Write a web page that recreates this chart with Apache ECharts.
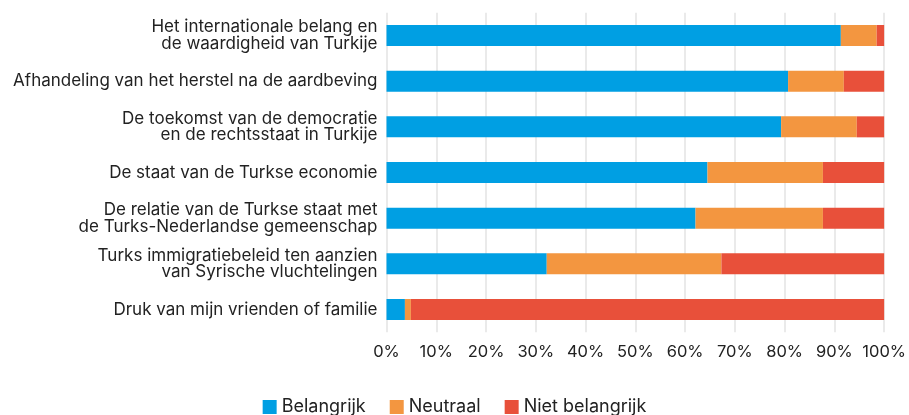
<!DOCTYPE html>
<html>
<head>
<meta charset="utf-8">
<script src="https://cdn.jsdelivr.net/npm/echarts@6/dist/echarts.min.js"></script>
<style>
  html, body { margin: 0; padding: 0; background: #fff; }
  #chart { width: 909px; height: 415px; }
</style>
</head>
<body>
<div id="chart"></div>
<script>
// categories top -> bottom
const categories = [
  'Het internationale belang en\nde waardigheid van Turkije',
  'Afhandeling van het herstel na de aardbeving',
  'De toekomst van de democratie\nen de rechtsstaat in Turkije',
  'De staat van de Turkse economie',
  'De relatie van de Turkse staat met\nde Turks-Nederlandse gemeenschap',
  'Turks immigratiebeleid ten aanzien\nvan Syrische vluchtelingen',
  'Druk van mijn vrienden of familie'
]
// percentages
const belangrijk = [91.3, 80.7, 79.3, 64.5, 62.1, 32.2, 3.7]
const neutraal = [7.2, 11.2, 15.2, 23.2, 25.6, 35.1, 1.2]
const nietBelangrijk = [1.5, 8.1, 5.5, 12.3, 12.3, 32.7, 95.1]

const colors = ['#009fe3', '#f39640', '#e8503a']
const font = 'Inter, "Noto Sans", sans-serif'

const chart = echarts.init(document.getElementById('chart'))

const makeSeries = (name, data) => ({
  name,
  type: 'bar',
  stack: 'total',
  barWidth: '46%',
  data,
  emphasis: { disabled: true }
})

chart.setOption({
  animation: false,
  color: colors,
  textStyle: { fontFamily: font },
  grid: { left: 386.5, right: 22.5, top: 12.7, bottom: 82.7, containLabel: false },
  legend: {
    top: 393,
    left: 'center',
    itemWidth: 14,
    itemHeight: 14,
    itemGap: 24,
    icon: 'rect',
    textStyle: { fontSize: 18, color: '#222', fontFamily: font },
    data: ['Belangrijk', 'Neutraal', 'Niet belangrijk']
  },
  xAxis: {
    type: 'value',
    min: 0,
    max: 100,
    interval: 10,
    axisLabel: {
      formatter: '{value}%',
      fontSize: 16.5,
      color: '#222',
      margin: 11
    },
    axisLine: { show: false },
    axisTick: { show: false },
    splitLine: { lineStyle: { color: '#e3e3e3', width: 1.5 } }
  },
  yAxis: {
    type: 'category',
    inverse: true,
    data: categories,
    axisLine: { show: false },
    axisTick: { show: false },
    axisLabel: {
      fontSize: 17,
      color: '#222',
      margin: 9,
      lineHeight: 16.5,
      align: 'right'
    }
  },
  series: [
    makeSeries('Belangrijk', belangrijk),
    makeSeries('Neutraal', neutraal),
    makeSeries('Niet belangrijk', nietBelangrijk)
  ]
})
</script>
</body>
</html>
